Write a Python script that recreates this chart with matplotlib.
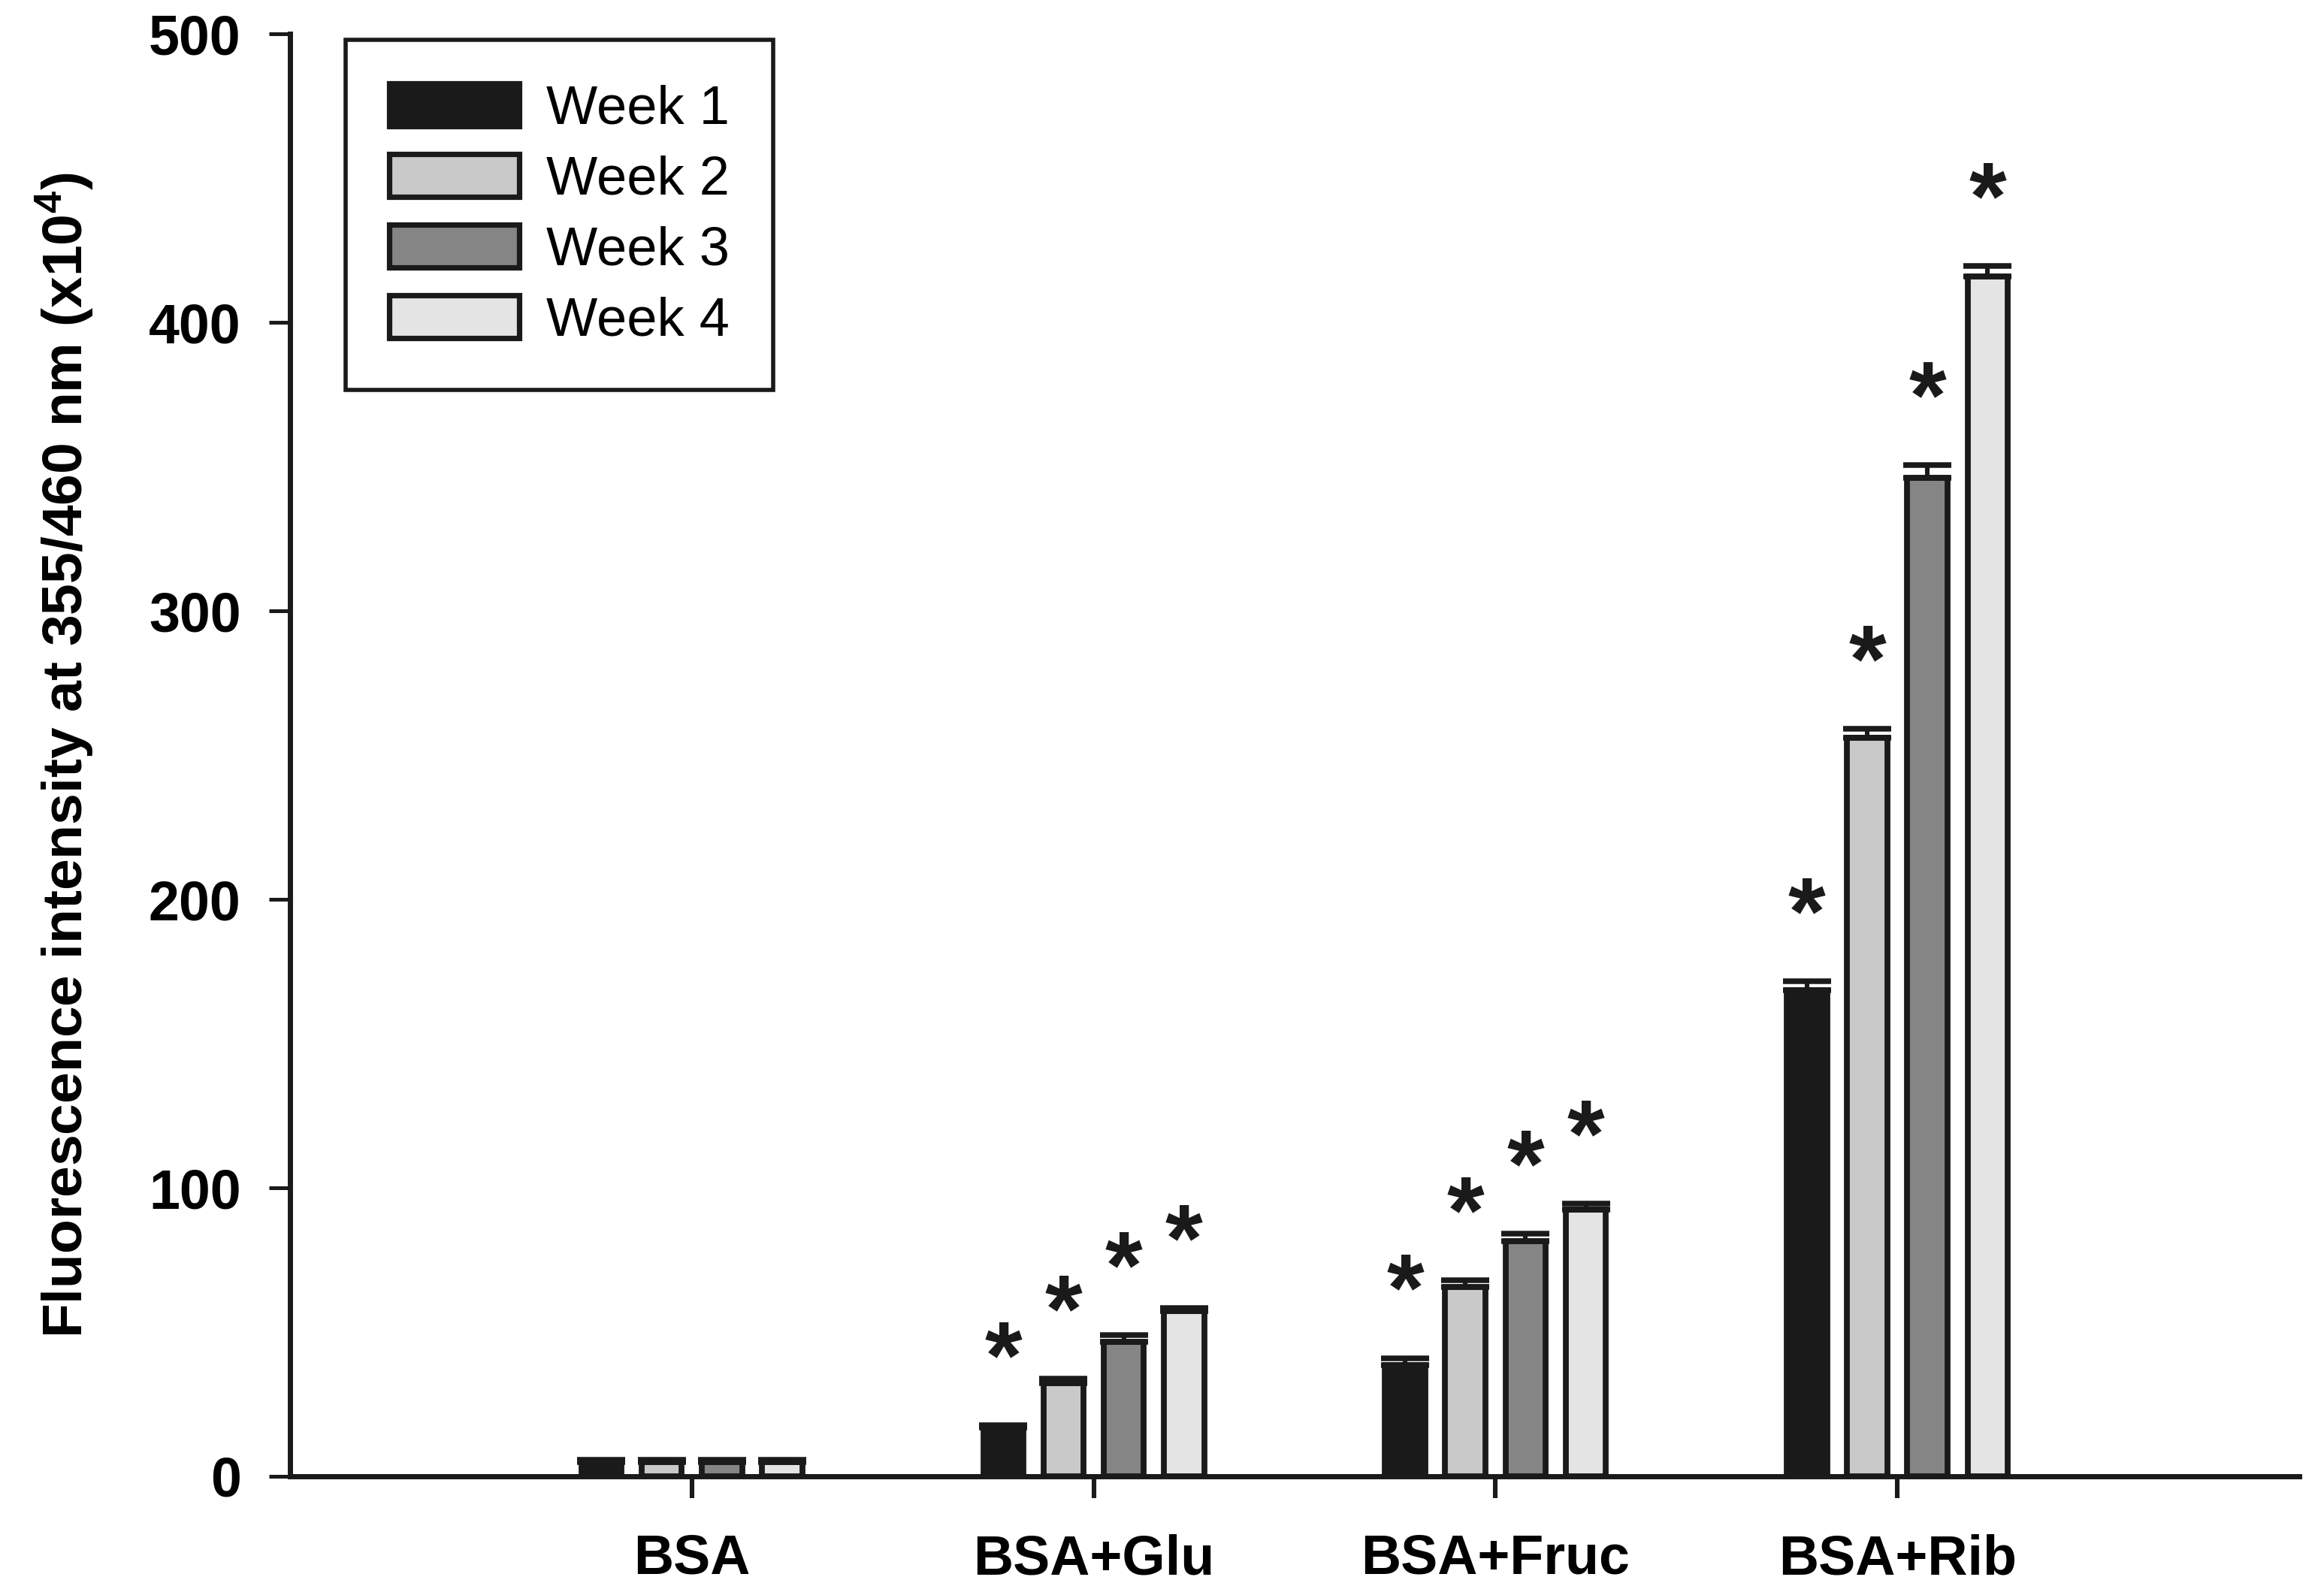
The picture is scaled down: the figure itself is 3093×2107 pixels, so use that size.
import numpy as np
import matplotlib
matplotlib.use("Agg")
import matplotlib.pyplot as plt
from matplotlib.patches import Patch

plt.rcParams["font.family"] = ["Liberation Sans", "DejaVu Sans"]
plt.rcParams["mathtext.default"] = "regular"

groups = ["BSA", "BSA+Glu", "BSA+Fruc", "BSA+Rib"]
weeks = ["Week 1", "Week 2", "Week 3", "Week 4"]

# fluorescence (x10^4), one list per week, ordered as groups
week1 = [5.0, 17.0, 38.5, 168.5]
week2 = [5.0, 32.3, 65.5, 256.0]
week3 = [5.0, 46.7, 81.5, 346.0]
week4 = [5.0, 57.2, 92.5, 416.0]
means = [week1, week2, week3, week4]

err1 = [0.6, 0.6, 2.5, 3.0]
err2 = [0.6, 1.5, 2.5, 3.0]
err3 = [0.6, 2.3, 2.5, 4.5]
err4 = [0.6, 1.1, 2.0, 3.5]
errs = [err1, err2, err3, err4]

# which bars carry a significance star
star1 = [False, True, True, True]
star2 = [False, True, True, True]
star3 = [False, True, True, True]
star4 = [False, True, True, True]
stars = [star1, star2, star3, star4]

colors = ["#1a1a1a", "#c9c9c9", "#858585", "#e4e4e4"]
edge = "#1a1a1a"

fig = plt.figure(figsize=(15.465, 10.535), dpi=200)
ax = fig.add_axes([0.1248, 0.0674, 0.8645, 0.9112])

x = np.arange(len(groups))
width = 0.10
step = 0.15
for i in range(4):
    pos = x + (i - 1.5) * step
    ax.bar(pos, means[i], width, color=colors[i], edgecolor=edge,
           linewidth=2.8, zorder=2)
    lower = np.zeros(len(groups))
    ax.errorbar(pos, means[i], yerr=[lower, errs[i]], fmt="none",
                ecolor=edge, elinewidth=2.2, capsize=11.5, capthick=2.7,
                zorder=3)
    for j in range(len(groups)):
        if stars[i][j]:
            ax.annotate("*", xy=(pos[j], means[i][j] + errs[i][j]),
                        xytext=(0, 18), textcoords="offset points",
                        ha="center", va="baseline", fontsize=46,
                        fontweight="bold", color=edge)

ax.set_xlim(-1, 4)
ax.set_ylim(0, 500)
ax.set_xticks(x)
ax.set_xticklabels(groups, fontsize=26.5, fontweight="bold")
ax.set_yticks(np.arange(0, 501, 100))
ax.set_yticklabels([str(v) for v in range(0, 501, 100)],
                   fontsize=26.5, fontweight="bold")
ax.tick_params(axis="x", length=10.5, width=2.2, pad=17, color=edge)
ax.tick_params(axis="y", length=10, width=1.8, pad=13.5, color=edge)

for s in ["top", "right"]:
    ax.spines[s].set_visible(False)
for s in ["left", "bottom"]:
    ax.spines[s].set_linewidth(2.5)
    ax.spines[s].set_color(edge)

ax.set_ylabel("Fluorescence intensity at 355/460 nm (x10$^4$)",
              fontsize=27, fontweight="bold")
ax.yaxis.set_label_coords(-0.097, 0.5)

handles = [Patch(facecolor=c, edgecolor=edge, linewidth=2.6) for c in colors]
leg = ax.legend(handles, weeks, loc="upper left",
                bbox_to_anchor=(0.0277, 0.996), borderaxespad=0,
                fontsize=26, handlelength=2.4, handleheight=0.85,
                handletextpad=0.5, labelspacing=0.35, borderpad=0.8,
                fancybox=False, framealpha=1, edgecolor=edge)
leg.get_frame().set_linewidth(2.0)

fig.savefig("out.png", dpi=200)
